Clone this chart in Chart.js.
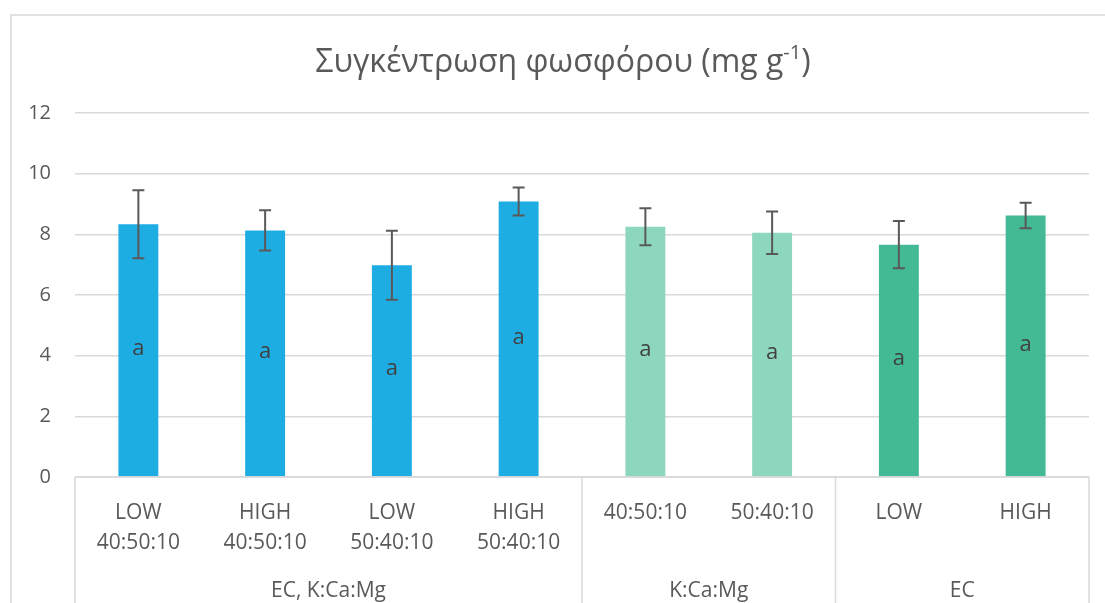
<!DOCTYPE html>
<html>
<head>
<meta charset="utf-8">
<script src="https://cdn.jsdelivr.net/npm/chart.js@4.4.0/dist/chart.umd.min.js"></script>
<style>
  html, body { margin: 0; padding: 0; background: #fff; }
  canvas { display: block; }
</style>
</head>
<body>
<canvas id="chart" width="1105" height="603"></canvas>
<script>
// categories (inner level) and outer groups
const categories = [['LOW', '40:50:10'], ['HIGH', '40:50:10'], ['LOW', '50:40:10'], ['HIGH', '50:40:10'],
                    ['40:50:10'], ['50:40:10'], ['LOW'], ['HIGH']];
const groups = ['EC, K:Ca:Mg', 'K:Ca:Mg', 'EC'];
const groupSizes = [4, 2, 2];

// phosphorus concentration (mg g-1) and error (+/-)
const phosphorus = [8.33, 8.13, 6.98, 9.08, 8.25, 8.05, 7.66, 8.62];
const errors = [1.12, 0.66, 1.14, 0.46, 0.61, 0.70, 0.78, 0.42];
const letters = ['a', 'a', 'a', 'a', 'a', 'a', 'a', 'a'];
const barColors = ['#1EADE3', '#1EADE3', '#1EADE3', '#1EADE3', '#8DD7BF', '#8DD7BF', '#43B996', '#43B996'];

const yTicks = [0, 2, 4, 6, 8, 10, 12];

const FONT = '"Open Sans", "Noto Sans", sans-serif';
const TEXT = '#595959';
const LINE = '#d9d9d9';

const extras = {
  id: 'extras',
  beforeDraw(chart) {
    const c = chart.ctx;
    c.save();
    c.strokeStyle = LINE;
    c.lineWidth = 1.5;
    c.beginPath();
    c.moveTo(11, chart.height + 5);
    c.lineTo(11, 15);
    c.lineTo(chart.width + 5, 15);
    c.stroke();

    // title with superscript
    const main = 'Συγκέντρωση φωσφόρου (mg g';
    const sup = '-1';
    const end = ')';
    c.fillStyle = TEXT;
    c.textBaseline = 'alphabetic';
    c.font = '32px ' + FONT;
    const w1 = c.measureText(main).width;
    const w3 = c.measureText(end).width;
    c.font = '20px ' + FONT;
    const w2 = c.measureText(sup).width;
    let x = 563 - (w1 + w2 + w3) / 2;
    c.font = '32px ' + FONT;
    c.textAlign = 'left';
    c.fillText(main, x, 72);
    x += w1;
    c.font = '20px ' + FONT;
    c.fillText(sup, x, 59);
    x += w2;
    c.font = '32px ' + FONT;
    c.fillText(end, x, 72);
    c.restore();
  },
  afterDatasetsDraw(chart) {
    const c = chart.ctx;
    const xs = chart.scales.x;
    const ys = chart.scales.y;
    const area = chart.chartArea;
    c.save();

    // error bars
    c.strokeStyle = '#595959';
    c.lineWidth = 2;
    phosphorus.forEach((v, i) => {
      const x = xs.getPixelForValue(i);
      const t = ys.getPixelForValue(v + errors[i]);
      const b = ys.getPixelForValue(v - errors[i]);
      c.beginPath();
      c.moveTo(x, t); c.lineTo(x, b);
      c.moveTo(x - 6, t); c.lineTo(x + 6, t);
      c.moveTo(x - 6, b); c.lineTo(x + 6, b);
      c.stroke();
    });

    // letters in the middle of each bar
    c.fillStyle = '#404040';
    c.font = '22px ' + FONT;
    c.textAlign = 'center';
    c.textBaseline = 'middle';
    phosphorus.forEach((v, i) => {
      c.fillText(letters[i], xs.getPixelForValue(i), ys.getPixelForValue(v / 2) - 2);
    });

    // axis line and group separators
    c.strokeStyle = LINE;
    c.lineWidth = 1.5;
    c.beginPath();
    c.moveTo(area.left, area.bottom);
    c.lineTo(area.right, area.bottom);
    const bounds = [area.left];
    let k = 0;
    groupSizes.forEach(n => {
      k += n;
      bounds.push(k === categories.length ? area.right
        : (xs.getPixelForValue(k - 1) + xs.getPixelForValue(k)) / 2);
    });
    bounds.forEach(b => {
      c.moveTo(b, area.bottom);
      c.lineTo(b, chart.height + 5);
    });
    c.stroke();

    // category labels
    c.fillStyle = TEXT;
    c.font = '21px ' + FONT;
    c.textBaseline = 'alphabetic';
    categories.forEach((lines, i) => {
      const x = xs.getPixelForValue(i);
      lines.forEach((s, j) => c.fillText(s, x, area.bottom + 42 + j * 30));
    });

    // group labels
    groups.forEach((g, i) => {
      c.fillText(g, (bounds[i] + bounds[i + 1]) / 2, area.bottom + 120);
    });
    c.restore();
  }
};

new Chart(document.getElementById('chart'), {
  type: 'bar',
  data: {
    labels: categories.map(l => l.join(' ')),
    datasets: [{
      data: phosphorus,
      backgroundColor: barColors,
      borderWidth: 0,
      barPercentage: 0.315,
      categoryPercentage: 1
    }]
  },
  options: {
    responsive: false,
    animation: false,
    devicePixelRatio: 1,
    layout: { padding: { left: 0, right: 16, top: 113, bottom: 0 } },
    plugins: { legend: { display: false }, tooltip: { enabled: false }, title: { display: false } },
    scales: {
      x: {
        grid: { display: false },
        border: { display: false },
        ticks: { display: false },
        afterFit(s) { s.height = 126; }
      },
      y: {
        min: 0,
        max: 12,
        afterBuildTicks(s) { s.ticks = yTicks.map(v => ({ value: v })); },
        grid: { color: LINE, lineWidth: 1.5, drawTicks: false },
        border: { display: false },
        ticks: { color: TEXT, font: { family: FONT, size: 20 }, padding: 24 },
        afterFit(s) { s.width = 75; }
      }
    }
  },
  plugins: [extras]
});
</script>
</body>
</html>
